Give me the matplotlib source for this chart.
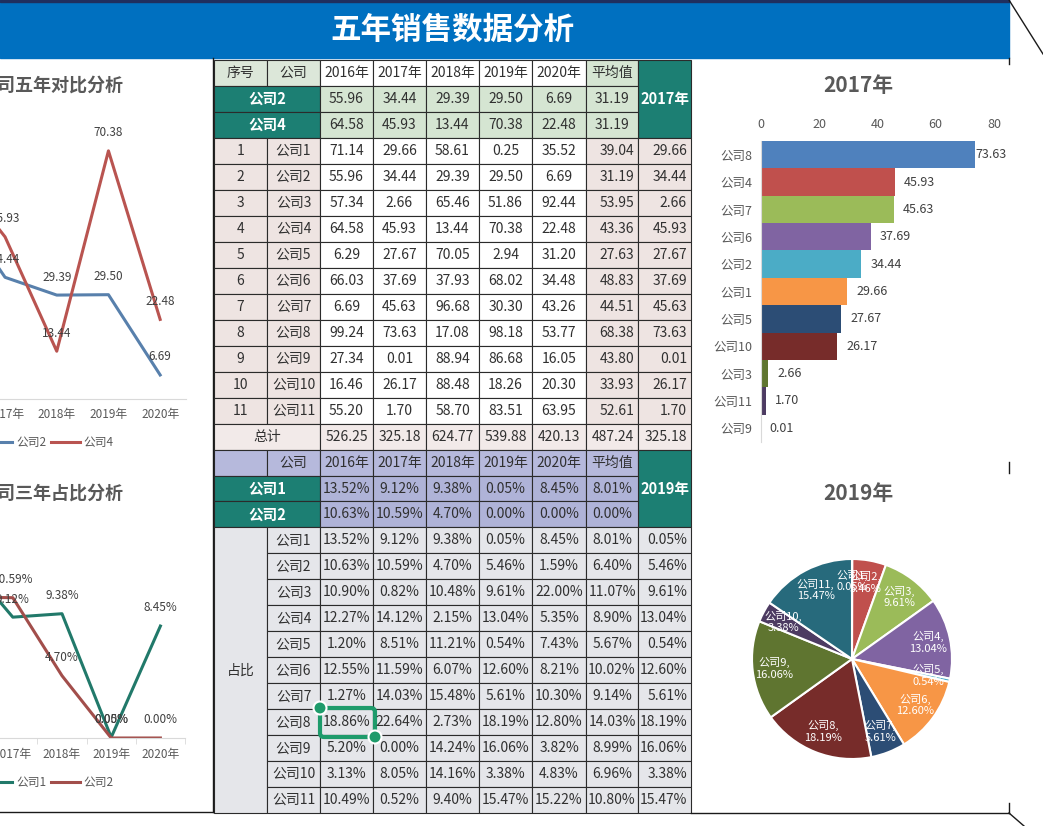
import numpy as np
import matplotlib
matplotlib.use('Agg')
import matplotlib.pyplot as plt
from matplotlib.patches import Rectangle, FancyBboxPatch, Circle

plt.rcParams['font.family'] = ['Noto Sans CJK SC', 'DejaVu Sans']

W, H = 1043, 826

# ---- data ----
companies = ['公司1', '公司2', '公司3', '公司4', '公司5', '公司6',
             '公司7', '公司8', '公司9', '公司10', '公司11']
years = ['2016年', '2017年', '2018年', '2019年', '2020年']

sales_2016 = [71.14, 55.96, 57.34, 64.58, 6.29, 66.03, 6.69, 99.24, 27.34, 16.46, 55.20]
sales_2017 = [29.66, 34.44, 2.66, 45.93, 27.67, 37.69, 45.63, 73.63, 0.01, 26.17, 1.70]
sales_2018 = [58.61, 29.39, 65.46, 13.44, 70.05, 37.93, 96.68, 17.08, 88.94, 88.48, 58.70]
sales_2019 = [0.25, 29.50, 51.86, 70.38, 2.94, 68.02, 30.30, 98.18, 86.68, 18.26, 83.51]
sales_2020 = [35.52, 6.69, 92.44, 22.48, 31.20, 34.48, 43.26, 53.77, 16.05, 20.30, 63.95]
sales_avg = [39.04, 31.19, 53.95, 43.36, 27.63, 48.83, 44.51, 68.38, 43.80, 33.93, 52.61]
sales_total = [526.25, 325.18, 624.77, 539.88, 420.13, 487.24, 325.18]

share_2016 = [13.52, 10.63, 10.90, 12.27, 1.20, 12.55, 1.27, 18.86, 5.20, 3.13, 10.49]
share_2017 = [9.12, 10.59, 0.82, 14.12, 8.51, 11.59, 14.03, 22.64, 0.00, 8.05, 0.52]
share_2018 = [9.38, 4.70, 10.48, 2.15, 11.21, 6.07, 15.48, 2.73, 14.24, 14.16, 9.40]
share_2019 = [0.05, 5.46, 9.61, 13.04, 0.54, 12.60, 5.61, 18.19, 16.06, 3.38, 15.47]
share_2020 = [8.45, 1.59, 22.00, 5.35, 7.43, 8.21, 10.30, 12.80, 3.82, 4.83, 15.22]
share_avg = [8.01, 6.40, 11.07, 8.90, 5.67, 10.02, 9.14, 14.03, 8.99, 6.96, 10.80]

# highlighted rows (what the two line charts use)
hl_sales_names = ['公司2', '公司4']
hl_sales_a = [55.96, 34.44, 29.39, 29.50, 6.69, 31.19]
hl_sales_b = [64.58, 45.93, 13.44, 70.38, 22.48, 31.19]
hl_share_names = ['公司1', '公司2']
hl_share_a = [13.52, 9.12, 9.38, 0.05, 8.45, 8.01]
hl_share_b = [10.63, 10.59, 4.70, 0.00, 0.00, 0.00]

palette = ['#4F81BD', '#C0504D', '#9BBB59', '#8064A2', '#4BACC6', '#F79646',
           '#2C4D75', '#772C2A', '#5F7530', '#4D3B62', '#276A7C']

sales = np.column_stack([sales_2016, sales_2017, sales_2018, sales_2019, sales_2020])
share = np.column_stack([share_2016, share_2017, share_2018, share_2019, share_2020])

fig = plt.figure(figsize=(W / 100, H / 100), dpi=100)
fig.patch.set_facecolor('white')


def px_axes(left, top, width, height):
    return fig.add_axes([left / W, 1 - (top + height) / H, width / W, height / H])


bg = px_axes(0, 0, W, H)
bg.set_xlim(0, W)
bg.set_ylim(H, 0)
bg.axis('off')

# banner
bg.add_patch(Rectangle((0, 0), 1009, 58, color='#0070C0'))
bg.add_patch(Rectangle((0, 0), 1009, 2, color='#1F2F5F'))
bg.text(452, 30, '五年销售数据分析', color='white', fontsize=22, fontweight='bold',
        ha='center', va='center')

# frames / decorations
frame = dict(color='#1a1a1a', lw=1.0)
bg.plot([213, 213], [58, 812], **frame)
bg.plot([0, 213], [812, 812], **frame)
bg.plot([691, 1009], [813, 813], **frame)
bg.plot([1009, 1009], [803, 813], **frame)
bg.plot([1009, 1024], [813, 826], **frame)
bg.plot([1009, 1043], [0, 54], **frame)
bg.plot([1009, 1009], [58, 64], **frame)
bg.plot([1009, 1009], [462, 473], **frame)

# ---- table ----
col_x = [214, 267, 320, 373, 426, 479, 532, 586, 638, 691]
row_h = 25.97
top0 = 60

teal = '#1C7F73'
green_pale = '#D5E5D2'
green_head = '#DCE7D9'
pink = '#EEE4E2'
pink_total = '#F2EAE9'
lav = '#B6B9DC'
lav_hl = '#AFB3D8'
gray = '#E5E6EA'


def cell(c0, c1, r0, r1, text='', fc='white', color='#303030', bold=False,
         size=10, align='center'):
    x0, x1 = col_x[c0], col_x[c1]
    y0, y1 = top0 + r0 * row_h, top0 + r1 * row_h
    bg.add_patch(Rectangle((x0, y0), x1 - x0, y1 - y0, facecolor=fc,
                           edgecolor='#2b2b2b', lw=0.8))
    if text:
        if align == 'center':
            tx, ha = (x0 + x1) / 2, 'center'
        else:
            tx, ha = x1 - 4, 'right'
        bg.text(tx, (y0 + y1) / 2, text, ha=ha, va='center', color=color,
                fontsize=size, fontweight='bold' if bold else 'normal')


# top table
cell(0, 1, 0, 1, '序号', green_head)
cell(1, 2, 0, 1, '公司', green_head)
for j, y in enumerate(years):
    cell(2 + j, 3 + j, 0, 1, y, 'white')
cell(7, 8, 0, 1, '平均值', green_pale)
cell(8, 9, 0, 3, '2017年', teal, 'white', True, 10.5)
for r, (name, vals) in enumerate(zip(hl_sales_names, [hl_sales_a, hl_sales_b])):
    cell(0, 2, 1 + r, 2 + r, name, teal, 'white', True, 10.5)
    for j, v in enumerate(vals):
        cell(2 + j, 3 + j, 1 + r, 2 + r, f'{v:.2f}', green_pale)
for i, name in enumerate(companies):
    r = 3 + i
    cell(0, 1, r, r + 1, str(i + 1), pink)
    cell(1, 2, r, r + 1, name, pink)
    for j in range(5):
        cell(2 + j, 3 + j, r, r + 1, f'{sales[i, j]:.2f}', 'white')
    cell(7, 8, r, r + 1, f'{sales_avg[i]:.2f}', pink, align='right')
    cell(8, 9, r, r + 1, f'{sales_2017[i]:.2f}', pink, align='right')
cell(0, 2, 14, 15, '总计', pink_total)
for j, v in enumerate(sales_total):
    cell(2 + j, 3 + j, 14, 15, f'{v:.2f}', pink_total,
         align='center' if j < 5 else 'right')

# bottom table
cell(0, 1, 15, 16, '', lav)
cell(1, 2, 15, 16, '公司', lav)
for j, y in enumerate(years):
    cell(2 + j, 3 + j, 15, 16, y, lav)
cell(7, 8, 15, 16, '平均值', lav)
cell(8, 9, 15, 18, '2019年', teal, 'white', True, 10.5)
for r, (name, vals) in enumerate(zip(hl_share_names, [hl_share_a, hl_share_b])):
    cell(0, 2, 16 + r, 17 + r, name, teal, 'white', True, 10.5)
    for j, v in enumerate(vals):
        cell(2 + j, 3 + j, 16 + r, 17 + r, f'{v:.2f}%', lav_hl)
cell(0, 1, 18, 29, '占比', gray)
for i, name in enumerate(companies):
    r = 18 + i
    cell(1, 2, r, r + 1, name, gray)
    for j in range(5):
        cell(2 + j, 3 + j, r, r + 1, f'{share[i, j]:.2f}%', gray)
    cell(7, 8, r, r + 1, f'{share_avg[i]:.2f}%', gray)
    cell(8, 9, r, r + 1, f'{share_2019[i]:.2f}%', gray, align='right')

# selection handles sitting on the 公司8 row
sel = '#1E9B6B'
bg.add_patch(FancyBboxPatch((320, 708), 55, 29, boxstyle='round,pad=0,rounding_size=4',
                            fill=False, ec=sel, lw=3))
bg.add_patch(Circle((320, 708), 6.5, fc=sel, ec='white', lw=1.5))
bg.add_patch(Circle((375, 737), 6.5, fc=sel, ec='white', lw=1.5))

# chart titles
title_kw = dict(color='#595959', fontweight='bold', va='center')
bg.text(123, 85, '公司五年对比分析', ha='right', fontsize=13, **title_kw)
bg.text(123, 493, '公司三年占比分析', ha='right', fontsize=13, **title_kw)
bg.text(858, 85, '2017年', ha='center', fontsize=15, **title_kw)
bg.text(858, 493, '2019年', ha='center', fontsize=15, **title_kw)


def style_line_axes(ax, ymax, minor=False):
    ax.set_facecolor('none')
    ax.set_xlim(-0.5, 4.5)
    ax.set_ylim(0, ymax)
    for s in ['top', 'right', 'left']:
        ax.spines[s].set_visible(False)
    ax.spines['bottom'].set_color('#D9D9D9')
    ax.set_yticks([])
    ax.set_xticks(np.arange(5))
    ax.set_xticklabels(years)
    ax.tick_params(axis='x', length=0, pad=7, labelsize=8.5, labelcolor='#595959')
    if minor:
        ax.set_xticks(np.arange(-0.5, 5, 1), minor=True)
        ax.tick_params(axis='x', which='minor', length=4, color='#D9D9D9')


x = np.arange(5)

# top-left line chart
ax1 = px_axes(-72.5, 117, 258.5, 281.5)
style_line_axes(ax1, 80)
for vals, name, c in [(hl_sales_a, hl_sales_names[0], '#5880AC'),
                      (hl_sales_b, hl_sales_names[1], '#B95450')]:
    ax1.plot(x, vals[:5], color=c, lw=2.2, label=name)
    for xi, v in zip(x, vals[:5]):
        ax1.annotate(f'{v:.2f}', (xi, v), xytext=(0, 13), textcoords='offset points',
                     ha='center', va='center', fontsize=8.5, color='#404040')
ax1.legend(loc='center', bbox_to_anchor=(0.47, -0.158), ncol=2, frameon=False,
           fontsize=8.5, handlelength=2.4, handletextpad=0.35, columnspacing=0.4,
           labelcolor='#595959')

# bottom-left line chart
ax2 = px_axes(-61, 526, 246, 212)
style_line_axes(ax2, 16, minor=True)
for vals, name, c in [(hl_share_a, hl_share_names[0], '#21796A'),
                      (hl_share_b, hl_share_names[1], '#A24E4B')]:
    ax2.plot(x, vals[:5], color=c, lw=2.2, label=name)
    for xi, v in zip(x, vals[:5]):
        ax2.annotate(f'{v:.2f}%', (xi, v), xytext=(0, 13), textcoords='offset points',
                     ha='center', va='center', fontsize=8.5, color='#404040')
ax2.legend(loc='center', bbox_to_anchor=(0.447, -0.212), ncol=2, frameon=False,
           fontsize=8.5, handlelength=2.4, handletextpad=0.35, columnspacing=0.4,
           labelcolor='#595959')

# bar chart 2017
ax3 = px_axes(760.7, 141, 233.3, 301)
ax3.set_facecolor('none')
order = np.argsort(-np.array(sales_2017), kind='stable')
bar_vals = np.array(sales_2017)[order]
bar_names = [companies[k] for k in order]
ypos = np.arange(len(bar_vals))
ax3.barh(ypos, bar_vals, height=1.0, color=palette[:len(bar_vals)])
ax3.set_xlim(0, 80)
ax3.set_ylim(len(bar_vals) - 0.5, -0.5)
ax3.set_xticks([0, 20, 40, 60, 80])
ax3.set_yticks(ypos)
ax3.set_yticklabels(bar_names)
ax3.xaxis.tick_top()
ax3.tick_params(axis='x', length=0, pad=7, labelsize=9, labelcolor='#595959')
ax3.tick_params(axis='y', length=0, pad=6, labelsize=9, labelcolor='#595959')
for s in ['top', 'right', 'bottom']:
    ax3.spines[s].set_visible(False)
ax3.spines['left'].set_color('#D9D9D9')
for yi, v in zip(ypos, bar_vals):
    off = 6.5 if v < 0.85 * 80 else 0
    ax3.annotate(f'{v:.2f}', (v, yi), xytext=(off, 0), textcoords='offset points',
                 ha='left', va='center', fontsize=9, color='#404040')

# pie chart 2019
ax4 = px_axes(752, 559, 200, 200)
wedges, texts = ax4.pie(share_2019, colors=palette, startangle=90, counterclock=False,
                        labels=[f'{c},\n{v:.2f}%' for c, v in zip(companies, share_2019)],
                        labeldistance=0.78,
                        wedgeprops=dict(edgecolor='white', linewidth=1.5),
                        textprops=dict(color='white', fontsize=8))
for t in texts:
    t.set_ha('center')
    t.set_va('center')
    t.set_multialignment('center')
ax4.set_xlim(-1, 1)
ax4.set_ylim(-1, 1)

fig.savefig('out.png', dpi=100)
